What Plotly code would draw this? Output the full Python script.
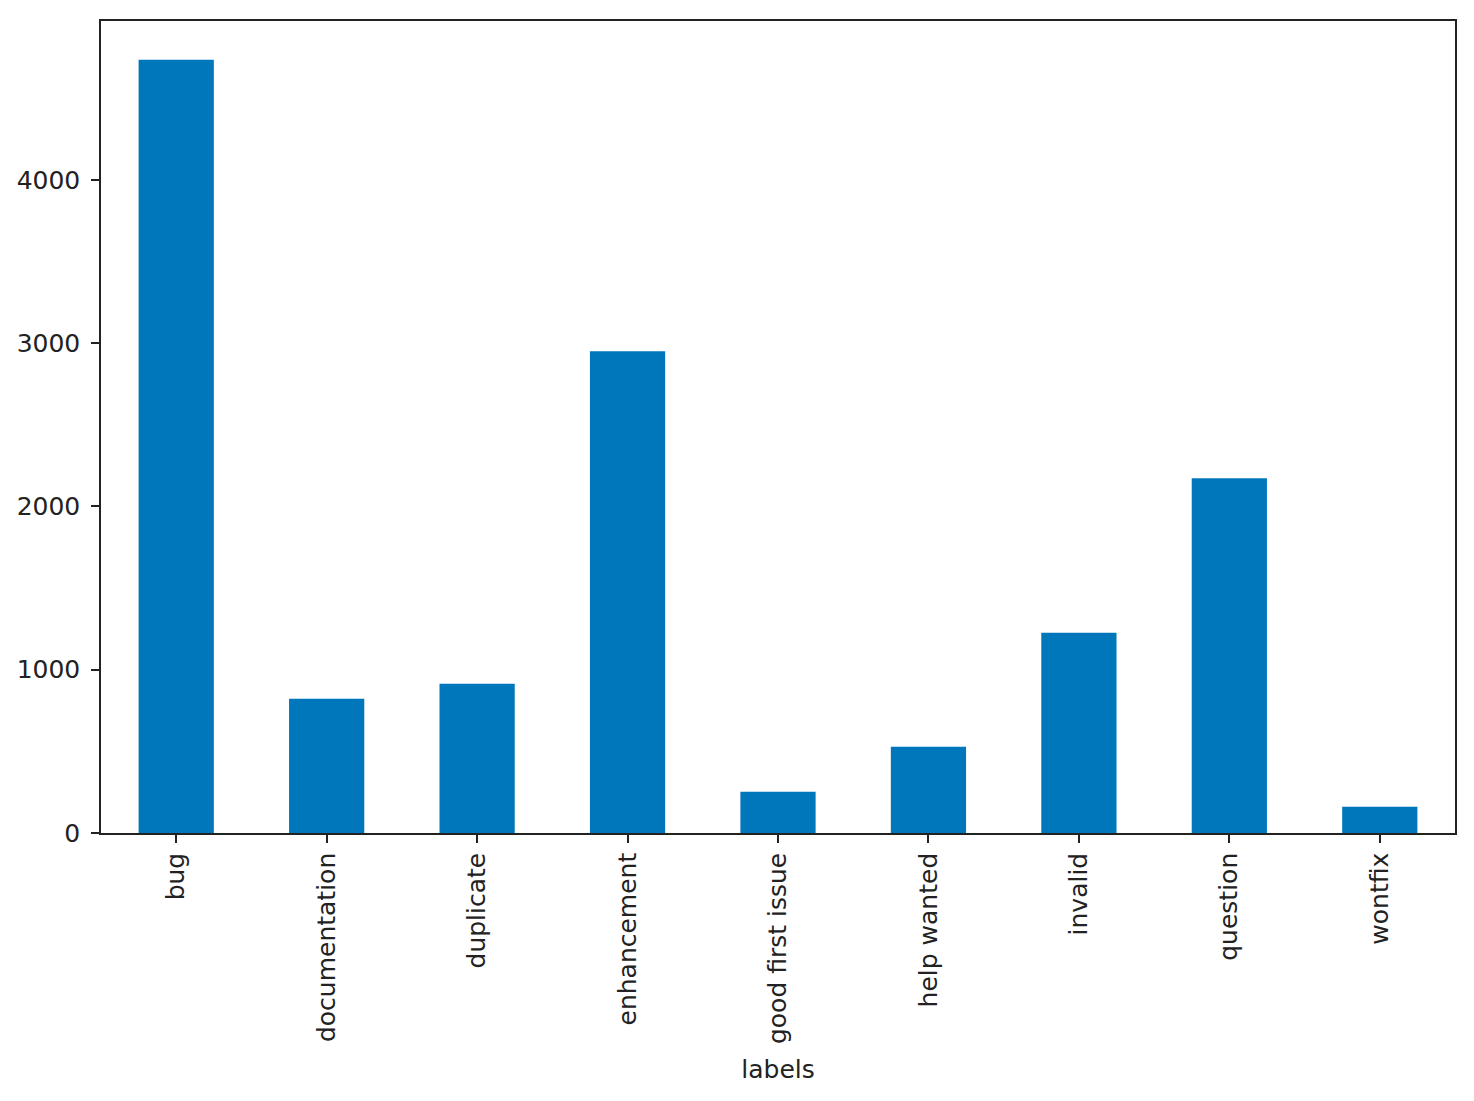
import plotly.graph_objects as go

categories = ["bug", "documentation", "duplicate", "enhancement", "good first issue",
              "help wanted", "invalid", "question", "wontfix"]
counts = [4736, 822, 914, 2951, 252, 528, 1227, 2172, 160]
y_ticks = [0, 1000, 2000, 3000, 4000]

font = dict(family="DejaVu Sans", size=25, color="#222222")

fig = go.Figure(go.Bar(x=categories, y=counts, width=0.5, marker=dict(color="#0077bb", line=dict(width=0))))

fig.update_layout(
    width=1474, height=1101,
    margin=dict(l=101, r=19, t=21, b=268),
    paper_bgcolor="white", plot_bgcolor="white",
    font=font, showlegend=False,
)
fig.update_xaxes(
    type="category", range=[-0.5, 8.5],
    showline=True, linecolor="#222222", linewidth=1.5, mirror=True,
    ticks="outside", ticklen=8, tickwidth=1.5, tickcolor="#222222",
    tickangle=-90, showgrid=False, zeroline=False,
    title=dict(text="labels", font=font, standoff=17),
)
fig.update_yaxes(
    range=[0, 4973], tickvals=y_ticks, ticktext=[str(v) for v in y_ticks],
    showline=True, linecolor="#222222", linewidth=1.5, mirror=True,
    ticks="outside", ticklen=8, tickwidth=1.5, tickcolor="#222222",
    ticklabelstandoff=6,
    showgrid=False, zeroline=False,
)
fig.write_html("out.html")
